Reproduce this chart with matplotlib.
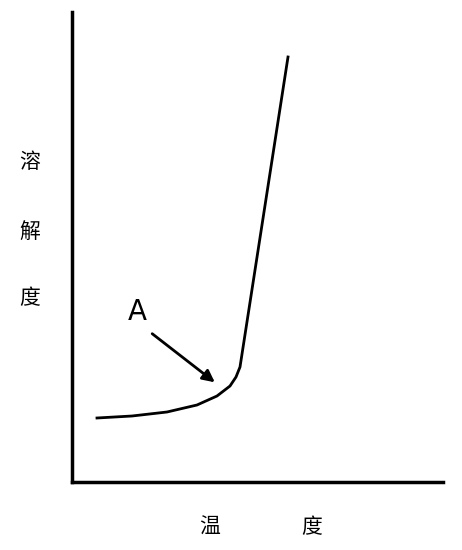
import matplotlib.pyplot as plt

plt.rcParams['font.family'] = ['Noto Sans CJK SC', 'DejaVu Sans']

# temperature vs solubility (arbitrary units)
temp = [25, 60, 95, 125, 145, 158, 164, 168, 216]
solub = [64, 66, 70, 77, 86, 96, 105, 115, 425]

arrow_tip = (145, 98)
arrow_tail = (78, 150)

fig = plt.figure(figsize=(4.62, 5.5), dpi=100)
ax = fig.add_axes([72 / 462, 68 / 550, 371 / 462, 470 / 550])
ax.plot(temp, solub, color='black', lw=2)
ax.set_xlim(0, 371)
ax.set_ylim(0, 470)
ax.spines['top'].set_visible(False)
ax.spines['right'].set_visible(False)
for s in ('left', 'bottom'):
    ax.spines[s].set_linewidth(2.5)
ax.set_xticks([])
ax.set_yticks([])

ax.annotate('', xy=arrow_tip, xytext=arrow_tail,
            arrowprops=dict(arrowstyle='-|>', color='black', lw=2, mutation_scale=18))
ax.text(65, 170, 'A', fontsize=20, family='DejaVu Sans', ha='center', va='center')

for ch, yp in zip(['溶', '解', '度'], [162, 232, 298]):
    fig.text(30 / 462, 1 - yp / 550, ch, fontsize=15, ha='center', va='center')
for ch, xp in zip(['温', '度'], [210, 312]):
    fig.text(xp / 462, 1 - 527 / 550, ch, fontsize=15, ha='center', va='center')

fig.savefig('out.png', dpi=100)
